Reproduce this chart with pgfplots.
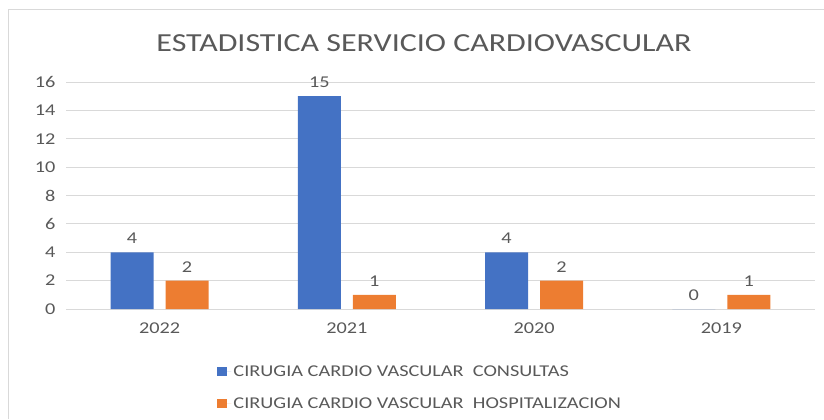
\documentclass[border=0pt]{standalone}
\usepackage{pgfplots}
\pgfplotsset{compat=1.18}
\usepackage{fontspec}
\setmainfont{Carlito}[FakeStretch=1.23]
\definecolor{cblue}{HTML}{4472C4}
\definecolor{corange}{HTML}{ED7D31}
\definecolor{tgray}{HTML}{595959}
\definecolor{ggray}{HTML}{D9D9D9}
\begin{document}
\begin{tikzpicture}[x=1bp,y=1bp]
\path[use as bounding box] (0,0) rectangle (824,419);
\draw[ggray, line width=1bp] (8,0) -- (8,409) -- (824,409);
\node[text=tgray, font=\fontsize{26bp}{30bp}\selectfont] at (424,376) {ESTADISTICA SERVICIO CARDIOVASCULAR};
\begin{axis}[
  at={(66bp,110bp)}, anchor=south west,
  scale only axis, width=749bp, height=227bp,
  xmin=-0.5, xmax=3.5, ymin=0, ymax=16,
  ytick={0,2,...,16},
  xtick={0,1,2,3}, xticklabels={2022,2021,2020,2019},
  axis line style={draw=none},
  major tick length=0pt,
  ymajorgrids, grid style={ggray, line width=1bp},
  ybar=12bp, bar width=43bp,
  tick label style={text=tgray, font=\fontsize{16.5bp}{19bp}\selectfont},
  /pgf/number format/assume math mode=true,
  yticklabel style={xshift=-7bp},
  xticklabel style={yshift=-10bp},
  nodes near coords,
  every node near coord/.append style={text=tgray, font=\fontsize{16.5bp}{19bp}\selectfont, yshift=5bp},
  legend style={at={(0.198,-0.23)}, anchor=north west, draw=none, fill=none,
    font=\fontsize{16.5bp}{19bp}\selectfont, text=tgray, row sep=16bp},
  legend cell align=left,
  legend image code/.code={\fill[#1] (0bp,-4.5bp) rectangle (10bp,4.5bp); \path (0bp,0bp) -- (14bp,0bp);},
]
\addplot[fill=cblue, draw=none] coordinates {(0,4) (1,15) (2,4) (3,0)};
\addplot[fill=corange, draw=none] coordinates {(0,2) (1,1) (2,2) (3,1)};
\legend{CIRUGIA CARDIO VASCULAR\ \ CONSULTAS, CIRUGIA CARDIO VASCULAR\ \ HOSPITALIZACION}
\end{axis}
\end{tikzpicture}
\end{document}
